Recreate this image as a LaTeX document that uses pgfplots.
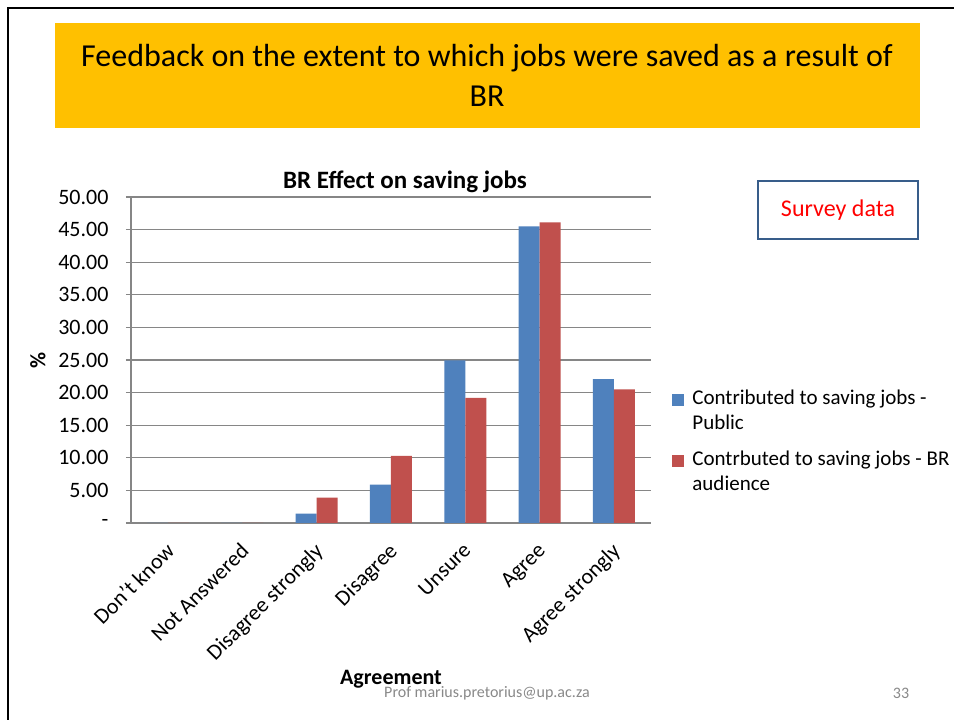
\documentclass[border=0pt]{standalone}
\usepackage{pgfplots}
\pgfplotsset{compat=1.18}
\usepackage{fontspec}
\setmainfont{Carlito}
\definecolor{barblue}{HTML}{4F81BD}
\definecolor{barred}{HTML}{C0504D}
\definecolor{gridgray}{HTML}{868686}
\definecolor{titleorange}{HTML}{FFC000}
\definecolor{boxblue}{HTML}{385D8A}
\definecolor{footgray}{HTML}{898989}
\begin{document}
\begin{tikzpicture}[x=1pt,y=1pt]
\useasboundingbox (0,0) rectangle (954,720);
\fill[white] (0,0) rectangle (954,720);
% slide frame
\draw[line width=2.5pt,black] (8,0) -- (8,712) -- (954,712);
% title box
\fill[titleorange] (55,592) rectangle (920,697);
\node[align=center,font=\fontsize{32}{40}\selectfont] at (487,644.5) {Feedback on the extent to which jobs were saved as a result of\\BR};
% survey data box
\draw[boxblue,line width=2pt] (758,481) rectangle (918,539);
\node[text=red,font=\fontsize{24}{28}\selectfont] at (838,510) {Survey data};
% footer
\node[text=footgray,font=\fontsize{16}{19}\selectfont] at (487,27) {Prof marius.pretorius@up.ac.za};
\node[text=footgray,font=\fontsize{16}{19}\selectfont] at (901,27) {33};

\begin{axis}[
  at={(131pt,197pt)}, anchor=south west,
  scale only axis, width=520pt, height=326pt,
  ybar=0pt, bar width=21pt,
  xmin=-0.5, xmax=6.5, ymin=0, ymax=50,
  xtick={0,1,2,3,4,5,6},
  xticklabels={Don’t know,Not Answered,Disagree strongly,Disagree,Unsure,Agree,Agree strongly},
  xticklabel style={rotate=45,anchor=north east,font=\fontsize{22}{26}\selectfont,xshift=-8.5pt,yshift=-3.8pt},
  major x tick style={draw=none},
  ytick={0,5,...,50},
  yticklabels={{-\hspace{8pt}},5.00,10.00,15.00,20.00,25.00,30.00,35.00,40.00,45.00,50.00},
  yticklabel style={font=\fontsize{22}{26}\selectfont,xshift=-14pt},
  major tick length=5pt,
  tick align=outside,
  major y tick style={gridgray,line width=1.2pt},
  axis x line*=bottom, axis y line*=left,
  axis line style={gridgray,line width=1.2pt,-},
  ymajorgrids, major grid style={gridgray,line width=1.2pt},
  title={\textbf{BR Effect on saving jobs}},
  title style={font=\fontsize{25}{30}\selectfont,at={(axis description cs:0.527,1.0)},anchor=south,yshift=-5pt},
  xlabel={\textbf{Agreement}},
  xlabel style={font=\fontsize{22}{26}\selectfont,at={(axis description cs:0.5,-0.48)},anchor=center},
  ylabel={\textbf{\%}},
  ylabel style={font=\fontsize{22}{26}\selectfont,at={(axis description cs:-0.179,0.5)},anchor=center},
  legend style={draw=none,fill=none,at={(axis description cs:1.035,0.42)},anchor=north west,
    font=\fontsize{21}{25}\selectfont,nodes={align=left,anchor=base west},row sep=16pt,column sep=6pt},
  legend cell align=left,
]
\addplot[fill=barblue,draw=none,legend image code/.code={\fill[barblue] (0pt,24pt) rectangle (12pt,36pt);}] coordinates {(0,0) (1,0) (2,1.45) (3,5.9) (4,24.95) (5,45.5) (6,22.05)};
\addplot[fill=barred,draw=none,legend image code/.code={\fill[barred] (0pt,24pt) rectangle (12pt,36pt);}] coordinates {(0,0) (1,0) (2,3.9) (3,10.3) (4,19.2) (5,46.1) (6,20.5)};
\legend{Contributed to saving jobs -\\Public,Contrbuted to saving jobs - BR\\audience}
\end{axis}
\end{tikzpicture}
\end{document}
